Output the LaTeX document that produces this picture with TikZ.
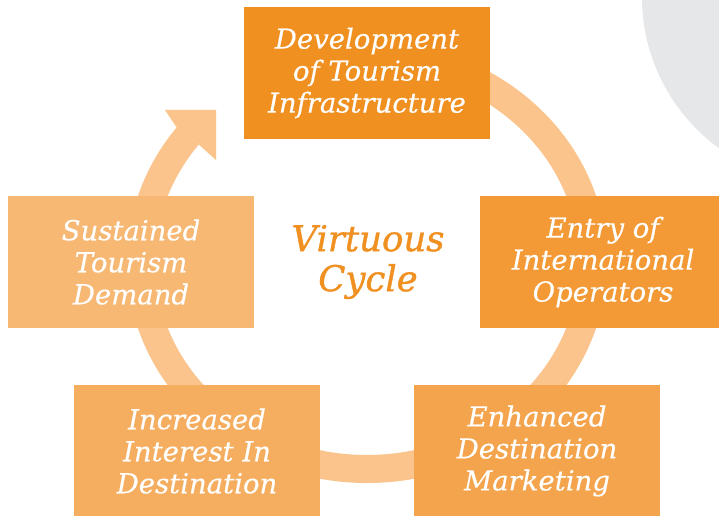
\documentclass[tikz,border=0pt]{standalone}
\usepackage{fontspec}
\setmainfont{DejaVu Serif}
\newfontfamily\boxit{DejaVu Serif}[FakeBold=0.4]
\newfontfamily\cycleit{DejaVu Serif}[FakeBold=1.0]
\definecolor{cTop}{HTML}{F09020}
\definecolor{cRight}{HTML}{F39A36}
\definecolor{cBR}{HTML}{F4A44C}
\definecolor{cBL}{HTML}{F5AE60}
\definecolor{cLeft}{HTML}{F7B874}
\definecolor{cRing}{HTML}{FAC48C}
\definecolor{cGray}{HTML}{E6E7E9}
\tikzset{
  box/.style={rectangle, inner sep=0pt, outer sep=0pt, minimum width=246pt, minimum height=132pt,
    text=white, align=center, font=\boxit\itshape\fontsize{27.5}{32}\selectfont},
  centertext/.style={text=cTop, align=center, font=\cycleit\itshape\fontsize{35.5}{40}\selectfont}
}
\begin{document}
\begin{tikzpicture}[x=1pt,y=1pt]
\useasboundingbox (0,0) rectangle (719,515);
\clip (0,0) rectangle (719,515);
\fill[white] (0,0) rectangle (719,515);
% gray circle at top right
\fill[cGray] (829,518) circle[radius=187pt];
% ring
\coordinate (c) at (367,253);
\fill[cRing] (367,474) arc[start angle=90, end angle=-217.5, x radius=240pt, y radius=221pt]
  -- (198.8,370.5) arc[start angle=-217.5, end angle=90, x radius=212pt, y radius=193pt] -- cycle;
% arrow head
\fill[cRing] (176.6,387.5) -- (165,405) -- (216,405) -- (216,355) -- (198.8,370.5) -- cycle;
% boxes
\node[box, fill=cTop] (top) at (367,442) {Development\\of Tourism\\Infrastructure};
\node[box, fill=cRight] (right) at (603,253) {Entry of\\International\\Operators};
\node[box, fill=cBR] (br) at (537,64) {Enhanced\\Destination\\Marketing};
\node[box, fill=cBL] (bl) at (197,64) {Increased\\Interest In\\Destination};
\node[box, fill=cLeft] (left) at (131,253) {Sustained\\Tourism\\Demand};
\node[centertext] (vc) at (368,253) {Virtuous\\Cycle};
\end{tikzpicture}
\end{document}
